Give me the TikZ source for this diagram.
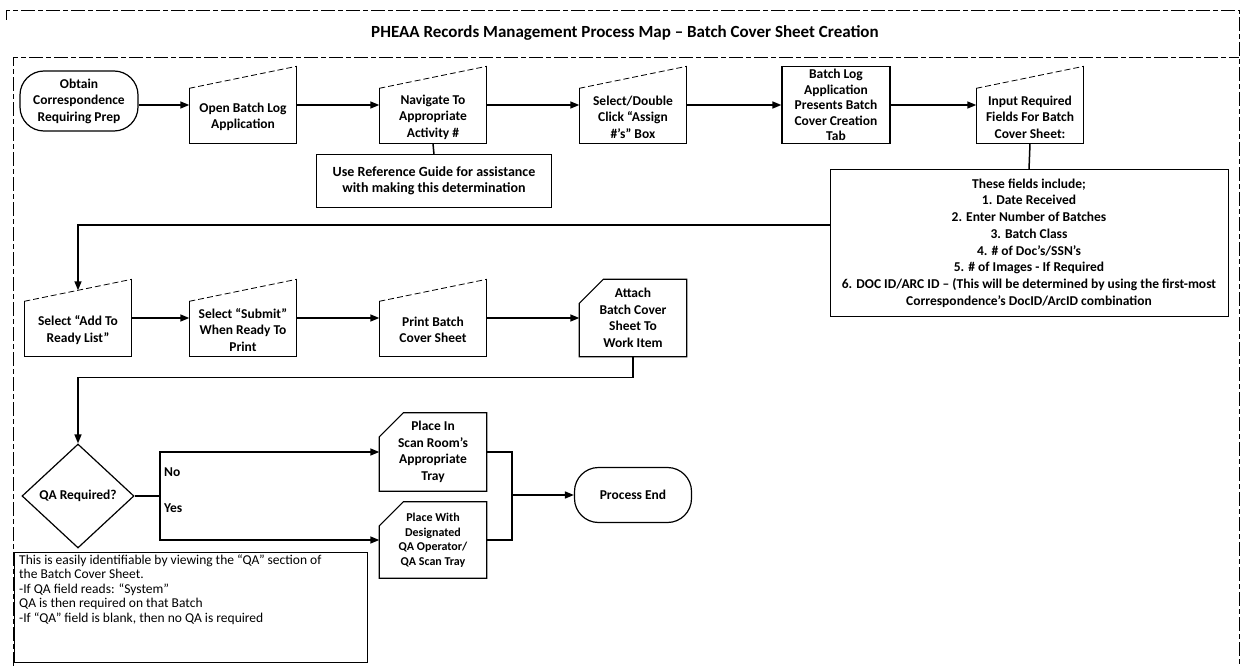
\documentclass[tikz,border=0pt]{standalone}
\usepackage{fontspec}
\setmainfont{Carlito}
\usetikzlibrary{shapes.geometric, arrows.meta, positioning, calc}

\tikzset{
  frame/.style={line width=0.9pt, dash pattern=on 14pt off 3pt on 5pt off 3pt},
  outline/.style={line width=1.2pt},
  slope/.style={line width=0.8pt, dash pattern=on 6pt off 3pt},
  boxarea/.style={rectangle, minimum width=107pt, minimum height=77pt, inner sep=0pt},
  boxtxt/.style={align=center, inner sep=0pt, font=\bfseries\fontsize{13.5}{16.5}\selectfont},
  smalltxt/.style={align=center, inner sep=0pt, font=\bfseries\fontsize{12}{14.5}\selectfont},
  term/.style={draw, outline, rectangle, rounded corners=24pt, align=center, inner sep=0pt},
  process/.style={draw, outline, rectangle, align=center, inner sep=0pt, minimum width=108pt, minimum height=77pt},
  note/.style={draw, line width=1pt, rectangle, align=center, inner sep=0pt},
  line/.style={line width=1.5pt},
  arr/.style={line width=1.5pt, -{Triangle[length=9pt,width=7pt]}}
}

\begin{document}
\begin{tikzpicture}[x=1pt, y=-1pt, font=\bfseries\fontsize{13.5}{16.5}\selectfont]
  \useasboundingbox (0,0) rectangle (1243,666);

  % Frame and title
  \draw[frame] (6,20) -- (6,10) -- (1239,10) -- (1239,666);
  \draw[frame] (13,666) -- (13,57) -- (1239,57);
  \node[font=\bfseries\fontsize{17}{20}\selectfont] (title) at (625,33)
    {PHEAA Records Management Process Map – Batch Cover Sheet Creation};

  % Start and end
  \node[term, minimum width=118pt, minimum height=60pt] (obtain) at (79,101)
    {Obtain\\Correspondence\\Requiring Prep};
  \node[term, minimum width=117pt, minimum height=55pt] (endn) at (633,495) {Process End};

  % Manual input steps
  \foreach \n/\x/\y/\t in {open/243/105/{Open Batch Log\\Application},
      nav/433/105/{Navigate To\\Appropriate\\Activity \#},
      sel/633/105/{Select/Double\\Click “Assign\\\#’s” Box},
      input/1030/105/{Input Required\\Fields For Batch\\Cover Sheet:},
      add/78/318/{Select “Add To\\Ready List”},
      sub/243/318/{Select “Submit”\\When Ready To\\Print},
      prt/433/318/{Print Batch\\Cover Sheet}} {
    \node[boxarea] (\n) at (\x,\y) {};
    \node[boxtxt] (\n-t) at (\x,\y+12) {\t};
    \draw[outline] ([yshift=-22pt]\n.north west) -- (\n.south west) -- (\n.south east) -- (\n.north east);
    \draw[slope] ([yshift=-22pt]\n.north west) -- (\n.north east);
  }

  % Card steps
  \foreach \n/\x/\y/\h/\s/\t in {att/633/318/77/boxtxt/{Attach\\Batch Cover\\Sheet To\\Work Item},
      scan/433/452/78/boxtxt/{Place In\\Scan Room’s\\Appropriate\\Tray},
      qaop/433/540/76/smalltxt/{Place With\\Designated\\QA Operator/\\QA Scan Tray}} {
    \node[boxarea, minimum height=\h pt] (\n) at (\x,\y) {};
    \node[\s] (\n-t) at (\x,\y) {\t};
    \draw[outline] ([yshift=-24pt]\n.north west) -- (\n.south west) -- (\n.south east)
      -- (\n.north east) -- ([xshift=24pt]\n.north west) -- cycle;
  }

  % Process box
  \node[process, font=\bfseries\fontsize{13.5}{15.5}\selectfont] (pres) at (836,105)
    {Batch Log\\Application\\Presents Batch\\Cover Creation\\Tab};

  % Decision
  \node[draw, outline, diamond, aspect=1.1, minimum width=112pt, minimum height=104pt, inner sep=0pt] (qa) at (78,496) {QA Required?};

  % Notes
  \node[note, font=\bfseries\fontsize{14}{16}\selectfont, minimum width=235pt, minimum height=52pt] (guide) at (434,181)
    {Use Reference Guide for assistance\\with making this determination};
  \node[note, font=\bfseries\fontsize{13.5}{16.7}\selectfont, minimum width=398pt, minimum height=146pt] (fields) at (1029,243)
    {These fields include;\\1. Date Received\\2. Enter Number of Batches\\3. Batch Class\\4. \# of Doc’s/SSN’s\\5. \# of Images - If Required\\6. DOC ID/ARC ID – (This will be determined by using the first-most\\Correspondence’s DocID/ArcID combination};
  \node[note, minimum width=353pt, minimum height=110pt] (qabox) at (191,607) {};
  \node[anchor=north west, align=left, inner sep=0pt, font=\fontsize{13.5}{14.5}\selectfont] (qatxt) at ([shift={(5pt,-3pt)}]qabox.north west)
    {This is easily identifiable by viewing the “QA” section of\\the Batch Cover Sheet.\\-If QA field reads: “System”\\QA is then required on that Batch\\-If “QA” field is blank, then no QA is required};

  % Connectors
  \draw[arr] (obtain.east |- open.west) -- (open.west);
  \foreach \a/\b in {open/nav, nav/sel, sel/pres, pres/input, add/sub, sub/prt, prt/att}
    \draw[arr] (\a.east) -- (\b.west);
  \draw[line] (nav.south) -- (guide.north);
  \draw[line] (input.south) -- (fields.north);
  \draw[arr] ([yshift=18pt]fields.west) -| ([yshift=-11pt]add.north);
  \draw[arr] (att.south) -- ++(0,21) -| (qa.north);

  \coordinate (br) at (160,496);
  \draw[line] (qa.east) -- (br);
  \draw[arr] (br) |- (scan.west);
  \draw[arr] (br) |- (qaop.west);
  \node[anchor=west, inner sep=0pt] (no) at (164,472) {No};
  \node[anchor=west, inner sep=0pt] (yes) at (164,508) {Yes};

  \coordinate (mg) at (512,495);
  \draw[line] (scan.east) -| (mg) |- (qaop.east);
  \draw[arr] (mg) -- (endn);
\end{tikzpicture}
\end{document}
